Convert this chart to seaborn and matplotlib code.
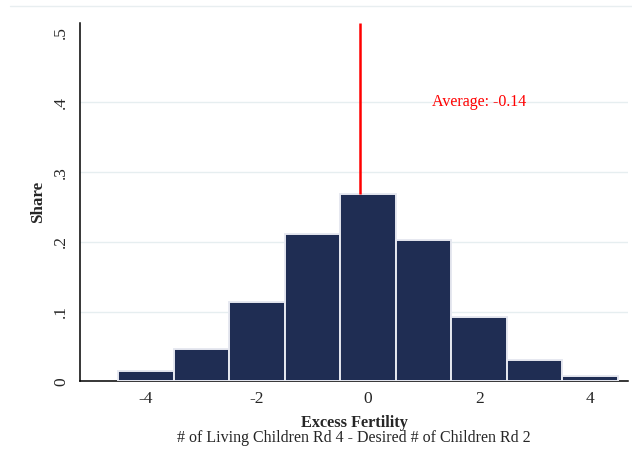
import matplotlib
matplotlib.use("Agg")
import matplotlib.pyplot as plt
import seaborn as sns
import pandas as pd
from matplotlib.lines import Line2D

# Distribution of excess fertility (share of respondents per integer value)
excess_values = [-4, -3, -2, -1, 0, 1, 2, 3, 4]
shares = [0.015, 0.047, 0.114, 0.212, 0.268, 0.203, 0.092, 0.030, 0.007]
average = -0.14

x_ticks = [-4, -2, 0, 2, 4]
y_ticks = [0, 0.1, 0.2, 0.3, 0.4, 0.5]
y_tick_labels = ["0", ".1", ".2", ".3", ".4", ".5"]
grid_levels = [0.1, 0.2, 0.3, 0.4]

df = pd.DataFrame({"excess": excess_values, "share": shares})

sns.set_style("white")
plt.rcParams["font.family"] = ["Liberation Serif", "DejaVu Serif"]

fig = plt.figure(figsize=(6.32, 4.51), dpi=100)
ax = fig.add_axes([0.1266, 0.1545, 0.867, 0.7945])

bar_color = "#1f2d53"
sns.barplot(data=df, x="excess", y="share", native_scale=True, width=1.0,
            color=bar_color, saturation=1.0, edgecolor="#e6e8f0",
            linewidth=1.4, ax=ax, zorder=3)

ax.set_xlim(-5.19, 4.68)
ax.set_ylim(0, 0.514)

ax.set_yticks(y_ticks)
ax.set_yticklabels(y_tick_labels, rotation=90, va="center", fontsize=12.5)
ax.set_xticks(x_ticks)
ax.set_xticklabels([str(v) for v in x_ticks], fontsize=12.5)
ax.tick_params(axis="both", direction="out", length=5, width=1, color="#555555",
               pad=2)
ax.tick_params(axis="y", pad=3)

# light horizontal grid (not at zero)
for yv in grid_levels:
    ax.axhline(yv, color="#e6eef0", lw=1, zorder=0)

for side in ["top", "right"]:
    ax.spines[side].set_visible(False)
for side in ["left", "bottom"]:
    ax.spines[side].set_color("black")
    ax.spines[side].set_linewidth(1.1)

# mean marker line and label
ax.vlines(average, shares[excess_values.index(0)], 0.514, color="red", lw=1.8, zorder=4)
ax.text(1.15, 0.4, f"Average: {average:.2f}", color="red", fontsize=11.5,
        ha="left", va="center")

ax.set_ylabel("Share", fontweight="bold", fontsize=12.2, labelpad=5)
ax.set_xlabel("")
xc = (0.1266 + 0.1266 + 0.867) / 2
fig.text(xc, 1 - 423 / 451, "Excess Fertility", fontweight="bold", fontsize=11.7,
         ha="center", va="center")
fig.text(xc, 1 - 438 / 451, "# of Living Children Rd 4 - Desired # of Children Rd 2",
         fontsize=11.5, ha="center", va="center")

# faint outer frame line at top of the graph region
fig.add_artist(Line2D([10 / 632, 1.0], [1 - 6 / 451, 1 - 6 / 451],
                      color="#e8eef0", lw=1, transform=fig.transFigure))

fig.savefig("out.png", dpi=100)
